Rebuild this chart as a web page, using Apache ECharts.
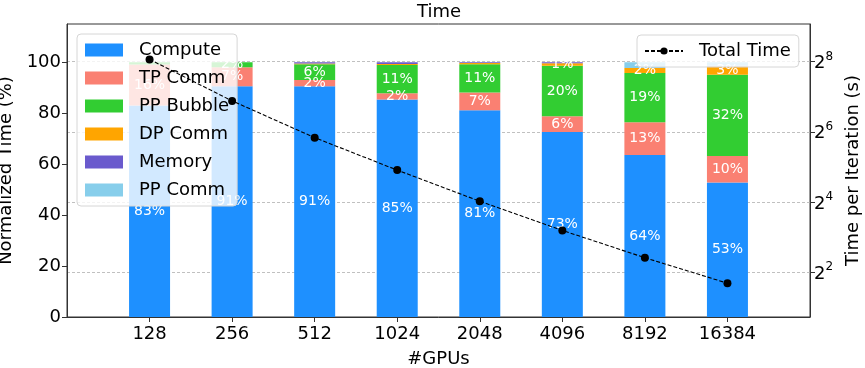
<!DOCTYPE html>
<html>
<head>
<meta charset="utf-8">
<script src="https://cdn.jsdelivr.net/npm/echarts@6/dist/echarts.min.js"></script>
<style>
  html, body { margin: 0; padding: 0; background: #fff; }
  #chart { width: 865px; height: 368px; }
</style>
</head>
<body>
<div id="chart"></div>
<script>
// GPU counts on the x axis
const gpus = ['128', '256', '512', '1024', '2048', '4096', '8192', '16384'];

// Share of iteration time per component (%), stacked bottom to top
const compute  = [83.0, 90.6, 90.6, 85.4, 81.1, 72.6, 63.6, 52.8];
const tpComm   = [16.1,  7.4,  2.4,  2.4,  7.0,  6.2, 12.8, 10.4];
const ppBubble = [ 0.9,  2.0,  6.2, 11.1, 11.1, 19.8, 19.4, 31.9];
const dpComm   = [ 0.0,  0.0,  0.3,  0.4,  0.5,  1.0,  1.9,  3.3];
const memory   = [ 0.0,  0.0,  0.5,  0.7,  0.3,  0.4,  0.0,  0.2];
const ppComm   = [ 0.0,  0.0,  0.0,  0.0,  0.0,  0.0,  2.3,  1.4];

// Wall-clock time per iteration (s)
const totalTime = [268, 118, 57, 30, 16.2, 9.1, 5.3, 3.2];

// Tick values
const pctTicks = [0, 20, 40, 60, 80, 100];
const timeTickExps = [2, 4, 6, 8];

// Log2 range of the right-hand axis
const timeExpMin = 0.714;
const timeExpMax = 9.077;

const FONT = 'DejaVu Sans';

// one empty slot on each side keeps a full category of margin around the bars
const xCats = [''].concat(gpus, ['']);
const pad = arr => [null].concat(arr, [null]);

const barDefs = [
  { name: 'Compute',   data: compute,  color: '#1E90FF', labelled: true },
  { name: 'TP Comm',   data: tpComm,   color: '#FA8072', labelled: true },
  { name: 'PP Bubble', data: ppBubble, color: '#32CD32', labelled: true },
  { name: 'DP Comm',   data: dpComm,   color: '#FFA500', labelled: true },
  { name: 'Memory',    data: memory,   color: '#6A5ACD', labelled: false },
  { name: 'PP Comm',   data: ppComm,   color: '#87CEEB', labelled: false }
];

const barSeries = barDefs.map(d => ({
  name: d.name,
  type: 'bar',
  stack: 'share',
  xAxisIndex: 0,
  yAxisIndex: 0,
  barWidth: 41,
  data: pad(d.data),
  itemStyle: { color: d.color },
  label: {
    show: d.labelled,
    position: 'inside',
    color: '#fff',
    fontFamily: FONT,
    fontSize: 14,
    formatter: p => (p.value != null && p.value >= 1) ? Math.round(p.value) + '%' : ''
  },
  z: 2
}));

const lineSeries = {
  name: 'Total Time',
  type: 'line',
  xAxisIndex: 0,
  yAxisIndex: 2,
  data: pad(totalTime),
  symbol: 'circle',
  symbolSize: 8,
  itemStyle: { color: '#000' },
  lineStyle: { color: '#000', width: 1.1, type: [4, 2] },
  z: 10,
  zlevel: 1
};

const chart = echarts.init(document.getElementById('chart'), null, { renderer: 'canvas' });

chart.setOption({
  animation: false,
  backgroundColor: '#fff',
  textStyle: { fontFamily: FONT },
  title: {
    text: 'Time',
    left: 439,
    textAlign: 'center',
    top: 3,
    padding: 0,
    textStyle: { fontFamily: FONT, fontSize: 18, fontWeight: 'normal', color: '#000' }
  },
  grid: {
    left: 67, right: 55, top: 24, bottom: 51,
    outerBoundsMode: 'none',
    containLabel: false,
    show: true, borderColor: '#333', borderWidth: 1, backgroundColor: 'transparent'
  },
  legend: [
    {
      data: barDefs.map(d => d.name),
      orient: 'vertical',
      left: 77, top: 34,
      padding: [7, 8, 7, 8],
      itemWidth: 38, itemHeight: 13, itemGap: 10,
      icon: 'rect',
      backgroundColor: 'rgba(255,255,255,0.8)',
      borderColor: '#d6d6d6', borderWidth: 1, borderRadius: 4,
      textStyle: { fontFamily: FONT, fontSize: 18, color: '#000', lineHeight: 18, padding: [0, 0, 0, 11] },
      selectedMode: false
    },
    {
      data: ['Total Time'],
      left: 637, top: 35,
      padding: [7, 8, 7, 7],
      itemWidth: 38, itemHeight: 9,
      backgroundColor: 'rgba(255,255,255,0.8)',
      borderColor: '#d6d6d6', borderWidth: 1, borderRadius: 4,
      textStyle: { fontFamily: FONT, fontSize: 18, color: '#000', lineHeight: 18, padding: [0, 0, 0, 11] },
      selectedMode: false
    }
  ],
  xAxis: {
    type: 'category',
    data: xCats,
    boundaryGap: false,
    name: '#GPUs',
    nameLocation: 'middle',
    nameGap: 33,
    nameTextStyle: { fontFamily: FONT, fontSize: 18, color: '#000' },
    axisLine: { show: true, lineStyle: { color: '#333', width: 1 } },
    axisTick: {
      show: true, length: 5, lineStyle: { color: '#333' },
      interval: (i) => i > 0 && i < xCats.length - 1
    },
    axisLabel: {
      interval: 0, margin: 8,
      fontFamily: FONT, fontSize: 18, color: '#000'
    },
    splitLine: { show: false }
  },
  yAxis: [
    {
      type: 'value',
      min: 0, max: 115,
      position: 'left',
      name: 'Normalized Time (%)',
      nameLocation: 'middle',
      nameGap: 46,
      nameTextStyle: { fontFamily: FONT, fontSize: 18, color: '#000' },
      axisLine: { show: true, lineStyle: { color: '#333', width: 1 } },
      axisTick: { show: true, length: 5, lineStyle: { color: '#333' }, customValues: pctTicks },
      axisLabel: { margin: 6, fontFamily: FONT, fontSize: 18, color: '#000', customValues: pctTicks },
      splitLine: { show: false }
    },
    {
      type: 'value',
      min: timeExpMin, max: timeExpMax,
      position: 'right',
      name: 'Time per Iteration (s)',
      nameLocation: 'middle',
      nameGap: 34,
      nameRotate: 90,
      nameTextStyle: { fontFamily: FONT, fontSize: 18, color: '#000' },
      axisLine: { show: true, lineStyle: { color: '#333', width: 1 } },
      axisTick: { show: true, length: 5, lineStyle: { color: '#333' }, customValues: timeTickExps },
      axisLabel: {
        margin: 4,
        customValues: timeTickExps,
        formatter: v => '{b|2}{s|' + v + '}',
        rich: {
          b: { fontFamily: FONT, fontSize: 18, color: '#000', lineHeight: 22, verticalAlign: 'bottom' },
          s: { fontFamily: FONT, fontSize: 12, color: '#000', lineHeight: 12, verticalAlign: 'top' }
        }
      },
      splitLine: { show: true, lineStyle: { color: '#b0b0b0', width: 0.8, type: [3, 2] } }
    },
    {
      type: 'log',
      logBase: 2,
      min: Math.pow(2, timeExpMin),
      max: Math.pow(2, timeExpMax),
      show: false,
      splitLine: { show: false }
    }
  ],
  series: barSeries.concat([lineSeries])
});
</script>
</body>
</html>
